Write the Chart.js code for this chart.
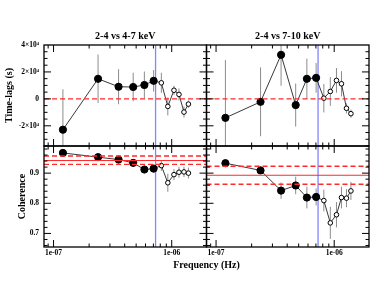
<!DOCTYPE html>
<html>
<head>
<meta charset="utf-8">
<script src="https://cdn.jsdelivr.net/npm/chart.js@4.4.1/dist/chart.umd.min.js"></script>
<style>
  html, body { margin:0; padding:0; background:#fff; }
  #wrap { width:388px; height:300px; }
</style>
</head>
<body>
<div id="wrap"><canvas id="c" width="388" height="300"></canvas></div>
<script>
/* ---------- data ---------- */
const freqs = [1.2e-7, 2.38e-7, 3.55e-7, 4.72e-7, 5.87e-7, 7.03e-7, 8.17e-7, 9.27e-7, 1.045e-6, 1.152e-6, 1.27e-6, 1.385e-6];
const nFilled = 6;   // first points drawn filled, the rest open

const lagSoft    = [-22900, 14900, 9000, 8800, 10300, 13400, 11900, -5600, 6400, 3300, -9800, -3900];
const lagSoftErr = [30000, 18000, 13000, 10600, 10000, 8000, 7500, 6700, 3400, 4400, 4100, 2700];
const lagHard    = [-14100, -2200, 32700, -4600, 14900, 15600, 500, 5500, 13700, 11200, -7000, -11000];
const lagHardErr = [43000, 25600, 23000, 16000, 15000, 11000, 10600, 10700, 9200, 9400, 3700, 3000];

const cohSoft    = [0.967, 0.953, 0.945, 0.934, 0.912, 0.915, 0.925, 0.868, 0.895, 0.903, 0.904, 0.900];
const cohSoftErr = [0.004, 0.005, 0.007, 0.011, 0.013, 0.013, 0.018, 0.030, 0.018, 0.018, 0.017, 0.018];
const cohHard    = [0.933, 0.909, 0.842, 0.859, 0.819, 0.821, 0.809, 0.735, 0.762, 0.819, 0.817, 0.841];
const cohHardErr = [0.011, 0.012, 0.027, 0.029, 0.036, 0.028, 0.036, 0.053, 0.042, 0.036, 0.030, 0.030];

const cohSoftBand = [0.929, 0.942, 0.957];   // low, mean, high
const cohHardBand = [0.863, 0.893, 0.923];
const fCut = 7.3e-7;

const freqRange = [8.3e-8, 1.97e-6];
const lagRange  = [-35000, 40000];
const cohRange  = [0.655, 0.99];

const freqTicks = [1e-7, 1e-6];
const freqTickLabels = ['1e-07', '1e-06'];
const lagTicks = [-20000, 0, 20000, 40000];
const lagTickLabels = ['-2×10⁴', '0', '2×10⁴', '4×10⁴'];
const cohTicks = [0.7, 0.8, 0.9];
const cohTickLabels = ['0.7', '0.8', '0.9'];
const panelTitles = ['2-4 vs 4-7 keV', '2-4 vs 7-10 keV'];

/* ---------- helpers ---------- */
const SERIF = "'Liberation Serif', 'Times New Roman', serif";
const tickFont  = { family: SERIF, size: 7.5, weight: 'bold' };
const titleFont = { family: SERIF, size: 10, weight: 'bold' };

function series(ys, errs, xId, yId){
  return {
    xAxisID: xId, yAxisID: yId, order: 1,
    data: freqs.map((f,i) => ({ x: f, y: ys[i] })),
    errors: errs,
    borderColor: '#222', borderWidth: 0.9,
    pointRadius: freqs.map((f,i) => i < nFilled ? 3.6 : 2.3),
    pointBackgroundColor: freqs.map((f,i) => i < nFilled ? '#000' : '#fff'),
    pointBorderColor: '#000', pointBorderWidth: 1
  };
}
function hline(y, xId, yId, dash, w){
  return {
    xAxisID: xId, yAxisID: yId, order: 0,
    data: [{ x: freqRange[0], y }, { x: freqRange[1], y }],
    borderColor: '#ff2a2a', borderWidth: w, borderDash: dash, pointRadius: 0
  };
}
function vline(xId, yId, range){
  return {
    xAxisID: xId, yAxisID: yId, order: 2,
    data: [{ x: fCut, y: range[0] }, { x: fCut, y: range[1] }],
    borderColor: '#8484ff', borderWidth: 1.3, pointRadius: 0
  };
}

/* error bars, clipped to their own panel */
const errorBars = {
  id: 'errorBars',
  beforeDatasetsDraw(chart){
    const ctx = chart.ctx;
    chart.data.datasets.forEach(ds => {
      if (!ds.errors) return;
      const xs = chart.scales[ds.xAxisID], ys = chart.scales[ds.yAxisID];
      ctx.save();
      ctx.beginPath();
      ctx.rect(xs.left, ys.top, xs.right - xs.left, ys.bottom - ys.top);
      ctx.clip();
      ctx.strokeStyle = '#8c8c8c';
      ctx.lineWidth = 1;
      ds.data.forEach((p, i) => {
        const px = xs.getPixelForValue(p.x);
        ctx.beginPath();
        ctx.moveTo(px, ys.getPixelForValue(p.y - ds.errors[i]));
        ctx.lineTo(px, ys.getPixelForValue(p.y + ds.errors[i]));
        ctx.stroke();
      });
      ctx.restore();
    });
  }
};

/* boxed panels with inward ticks on all four sides */
const majorStep = { yLag: 20000, yCoh: 0.1 };
const minorStep = { yLag: 5000,  yCoh: 0.02 };
const frames = {
  id: 'frames',
  afterDatasetsDraw(chart){
    const ctx = chart.ctx;
    const panels = [['xL','yLag'], ['xR','yLag'], ['xL','yCoh'], ['xR','yCoh']];
    ctx.save();
    ctx.strokeStyle = '#000';
    panels.forEach(([xi, yi]) => {
      const xs = chart.scales[xi], ys = chart.scales[yi];
      const L = xs.left, R = xs.right, T = ys.top, B = ys.bottom;
      ctx.lineWidth = 1;
      ctx.beginPath();
      for (let d = -8; d <= -5; d++){
        for (let m = 1; m <= 9; m++){
          const v = m * Math.pow(10, d);
          if (v <= xs.min || v >= xs.max) continue;
          const px = xs.getPixelForValue(v), len = m === 1 ? 7 : 3.5;
          ctx.moveTo(px, B); ctx.lineTo(px, B - len);
          ctx.moveTo(px, T); ctx.lineTo(px, T + len);
        }
      }
      const mn = minorStep[yi], mj = majorStep[yi];
      for (let k = Math.ceil(ys.min / mn); k * mn < ys.max; k++){
        const v = k * mn;
        const major = Math.abs(v / mj - Math.round(v / mj)) < 1e-6;
        const py = ys.getPixelForValue(v), len = major ? 7 : 3.5;
        ctx.moveTo(L, py); ctx.lineTo(L + len, py);
        ctx.moveTo(R, py); ctx.lineTo(R - len, py);
      }
      ctx.stroke();
      ctx.lineWidth = 1.3;
      ctx.strokeRect(L, T, R - L, B - T);
    });
    ctx.restore();
  }
};

function freqAxis(pos, stack, title){
  const a = {
    type: 'logarithmic', position: pos, stack, stackWeight: 1,
    min: freqRange[0], max: freqRange[1],
    grid: { display: false, drawTicks: false }, border: { display: false }
  };
  if (title){
    a.ticks = { display: false };
    a.title = { display: true, text: title, font: titleFont, color: '#000', padding: { top: 30.5, bottom: 0 } };
    a.afterFit = s => { s.height = 45; };
  } else {
    a.afterBuildTicks = s => { s.ticks = freqTicks.map(v => ({ value: v })); };
    a.ticks = { callback: (v, i) => freqTickLabels[i], font: tickFont, color: '#000', padding: 2, maxRotation: 0, autoSkip: false };
    a.afterFit = s => { s.height = 12; };
  }
  return a;
}
function valueAxis(range, ticks, labels, title, titlePad){
  return {
    type: 'linear', position: 'left', stack: 'v', stackWeight: 1,
    min: range[0], max: range[1],
    afterBuildTicks: s => { s.ticks = ticks.map(v => ({ value: v })); },
    ticks: { callback: (v, i) => labels[i], font: tickFont, color: '#000', padding: 5, autoSkip: false },
    grid: { display: false, drawTicks: false }, border: { display: false },
    title: { display: true, text: title, font: titleFont, color: '#000', padding: { top: titlePad, bottom: 0 } },
    afterFit: s => { s.width = 44; }
  };
}

new Chart(document.getElementById('c'), {
  type: 'line',
  data: {
    datasets: [
      series(lagSoft, lagSoftErr, 'xL', 'yLag'),
      series(lagHard, lagHardErr, 'xR', 'yLag'),
      series(cohSoft, cohSoftErr, 'xL', 'yCoh'),
      series(cohHard, cohHardErr, 'xR', 'yCoh'),
      hline(0, 'xL', 'yLag', [5, 3], 1.4),
      hline(0, 'xR', 'yLag', [5, 3], 1.4),
      hline(cohSoftBand[0], 'xL', 'yCoh', [5, 3], 1.4),
      hline(cohSoftBand[1], 'xL', 'yCoh', [], 1.1),
      hline(cohSoftBand[2], 'xL', 'yCoh', [5, 3], 1.4),
      hline(cohHardBand[0], 'xR', 'yCoh', [5, 3], 1.4),
      hline(cohHardBand[1], 'xR', 'yCoh', [], 1.1),
      hline(cohHardBand[2], 'xR', 'yCoh', [5, 3], 1.4),
      vline('xL', 'yLag', lagRange),
      vline('xR', 'yLag', lagRange),
      vline('xL', 'yCoh', cohRange),
      vline('xR', 'yCoh', cohRange)
    ]
  },
  options: {
    responsive: false, animation: false, devicePixelRatio: 1, events: [],
    layout: { padding: { left: 0, top: 0, right: 19, bottom: 29 } },
    plugins: {
      legend: { display: false },
      tooltip: { enabled: false },
      title: { display: true, position: 'bottom', fullSize: false, text: 'Frequency (Hz)',
               font: titleFont, color: '#000', padding: { top: 0, bottom: 0 } }
    },
    scales: {
      xL: freqAxis('bottom', 'fb'),
      xR: freqAxis('bottom', 'fb'),
      tR: freqAxis('top', 'ft', panelTitles[1]),
      tL: freqAxis('top', 'ft', panelTitles[0]),
      yCoh: valueAxis(cohRange, cohTicks, cohTickLabels, 'Coherence', 16.5),
      yLag: valueAxis(lagRange, lagTicks, lagTickLabels, 'Time-lags (s)', 3)
    }
  },
  plugins: [errorBars, frames]
});
</script>
</body>
</html>
